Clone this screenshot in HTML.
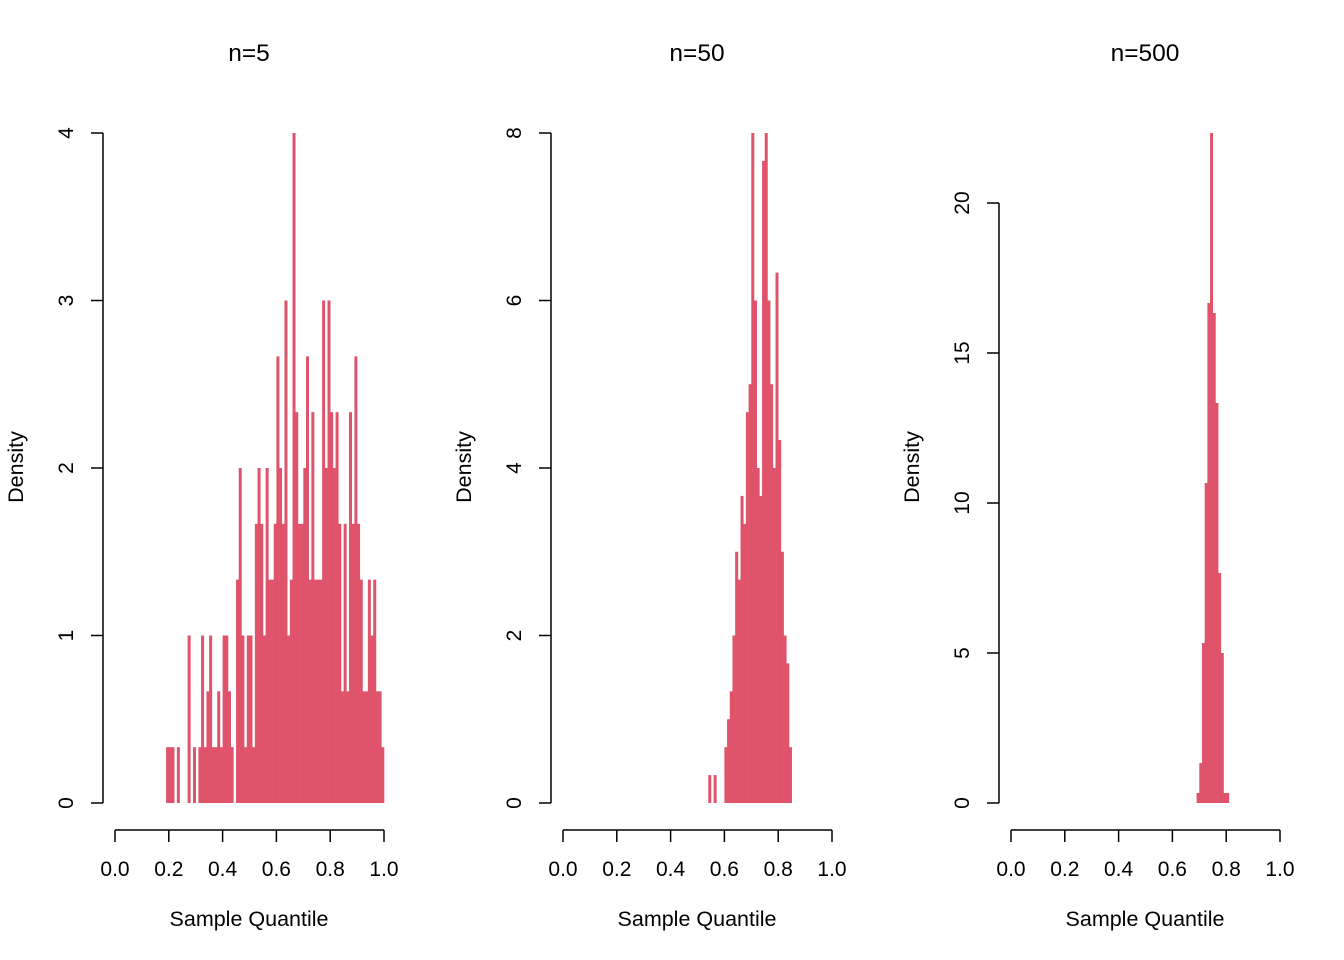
<!DOCTYPE html>
<html><head><meta charset="utf-8"><style>
html,body{margin:0;padding:0;background:#fff;}
svg{display:block;font-family:"Liberation Sans",Arial,sans-serif;}
</style></head><body>
<svg id="chart" width="1344" height="960" viewBox="0 0 1344 960"></svg>
<script>
// Bin starts (x = bin/100), densities = k/3
const binsN5 = [19,20,21,23,27,29,31,32,33,34,35,36,37,38,39,40,41,42,43,45,46,47,48,49,50,51,52,53,54,55,56,57,58,59,60,61,62,63,64,65,66,67,68,69,70,71,72,73,74,75,76,77,78,79,80,81,82,83,84,85,86,87,88,89,90,91,92,93,94,95,96,97,98,99];
const countsN5 = [1,1,1,1,3,1,1,3,1,2,3,1,1,2,1,3,3,2,1,4,6,3,1,3,3,1,5,6,5,3,6,4,4,5,8,6,5,9,3,4,12,7,5,5,6,8,4,7,4,4,4,9,6,9,7,6,7,5,2,5,2,7,5,8,5,4,2,2,4,3,4,2,2,1];
const binsN50 = [54,56,60,61,62,63,64,65,66,67,68,69,70,71,72,73,74,75,76,77,78,79,80,81,82,83,84];
const countsN50 = [1,1,2,3,4,6,9,8,11,10,14,15,24,18,12,11,23,24,18,15,12,19,13,9,6,5,2];
const binsN500 = [69,70,71,72,73,74,75,76,77,78,79,80];
const countsN500 = [1,4,16,32,50,67,49,40,23,15,1,1];
const titles = ["n=5","n=50","n=500"];
const yTicks1 = [0,1,2,3,4];
const yTicks2 = [0,2,4,6,8];
const yTicks3 = [0,5,10,15,20];
const xTicks = [0,0.2,0.4,0.6,0.8,1.0];
const xTickLabels = ["0.0","0.2","0.4","0.6","0.8","1.0"];

const NS="http://www.w3.org/2000/svg";
const svg=document.getElementById('chart');
function mk(tag,attrs,parent){const e=document.createElementNS(NS,tag);for(const k in attrs)e.setAttribute(k,attrs[k]);(parent||svg).appendChild(e);return e;}

const panels=[
 {bins:binsN5,counts:countsN5,ticks:yTicks1,ymax:4,yTopPx:133},
 {bins:binsN50,counts:countsN50,ticks:yTicks2,ymax:8,yTopPx:133},
 {bins:binsN500,counts:countsN500,ticks:yTicks3,ymax:20,yTopPx:203}
];
const names=["n5","n50","n500"];
panels.forEach((p,pi)=>{
  const off=pi*448;
  const g=mk('g',{});
  
  
  const x0=115+off, x1=384+off;
  const xs=v=>x0+(x1-x0)*v;
  const y0=803;
  const ys=v=>y0-(y0-p.yTopPx)*v/p.ymax;
  p.bins.forEach((b,i)=>{
    const d=p.counts[i]/3;
    const r=mk('rect',{x:xs(b/100),y:ys(d),width:(xs((b+1)/100)-xs(b/100))+0.3,height:y0-ys(d),fill:'#DF536B'},g);
    
    
  });
  const ax=103+off;
  const ya=mk('g',{},g);
  
  
  mk('line',{x1:ax,y1:ys(p.ticks[0]),x2:ax,y2:ys(p.ticks[p.ticks.length-1]),stroke:'#000','stroke-width':1.5},ya);
  p.ticks.forEach(t=>{
    const y=ys(t);
    mk('line',{x1:ax-12,y1:y,x2:ax,y2:y,stroke:'#000','stroke-width':1.5},ya);
    const tx=mk('text',{x:73+off,y:y,'font-size':21,'text-anchor':'middle',transform:`rotate(-90 ${73+off} ${y})`},ya);
    tx.textContent=t;
    
    
  });
  const xa=mk('g',{},g);
  
  
  mk('line',{x1:x0,y1:830,x2:x1,y2:830,stroke:'#000','stroke-width':1.5},xa);
  xTicks.forEach((t,i)=>{
    const x=xs(t);
    mk('line',{x1:x,y1:830,x2:x,y2:842,stroke:'#000','stroke-width':1.5},xa);
    const tx=mk('text',{x:x,y:876,'font-size':21,'text-anchor':'middle'},xa);
    tx.textContent=xTickLabels[i];
    
    
  });
  const xl=mk('text',{x:249+off,y:926,'font-size':21.5,'text-anchor':'middle'},g);
  xl.textContent='Sample Quantile';
  
  
  const yl=mk('text',{x:23+off,y:467,'font-size':21.5,'text-anchor':'middle',transform:`rotate(-90 ${23+off} 467)`},g);
  yl.textContent='Density';
  
  
  const tt=mk('text',{x:249+off,y:61,'font-size':24.5,'text-anchor':'middle'},g);
  tt.textContent=titles[pi];
  
  
});
</script>
</body></html>
